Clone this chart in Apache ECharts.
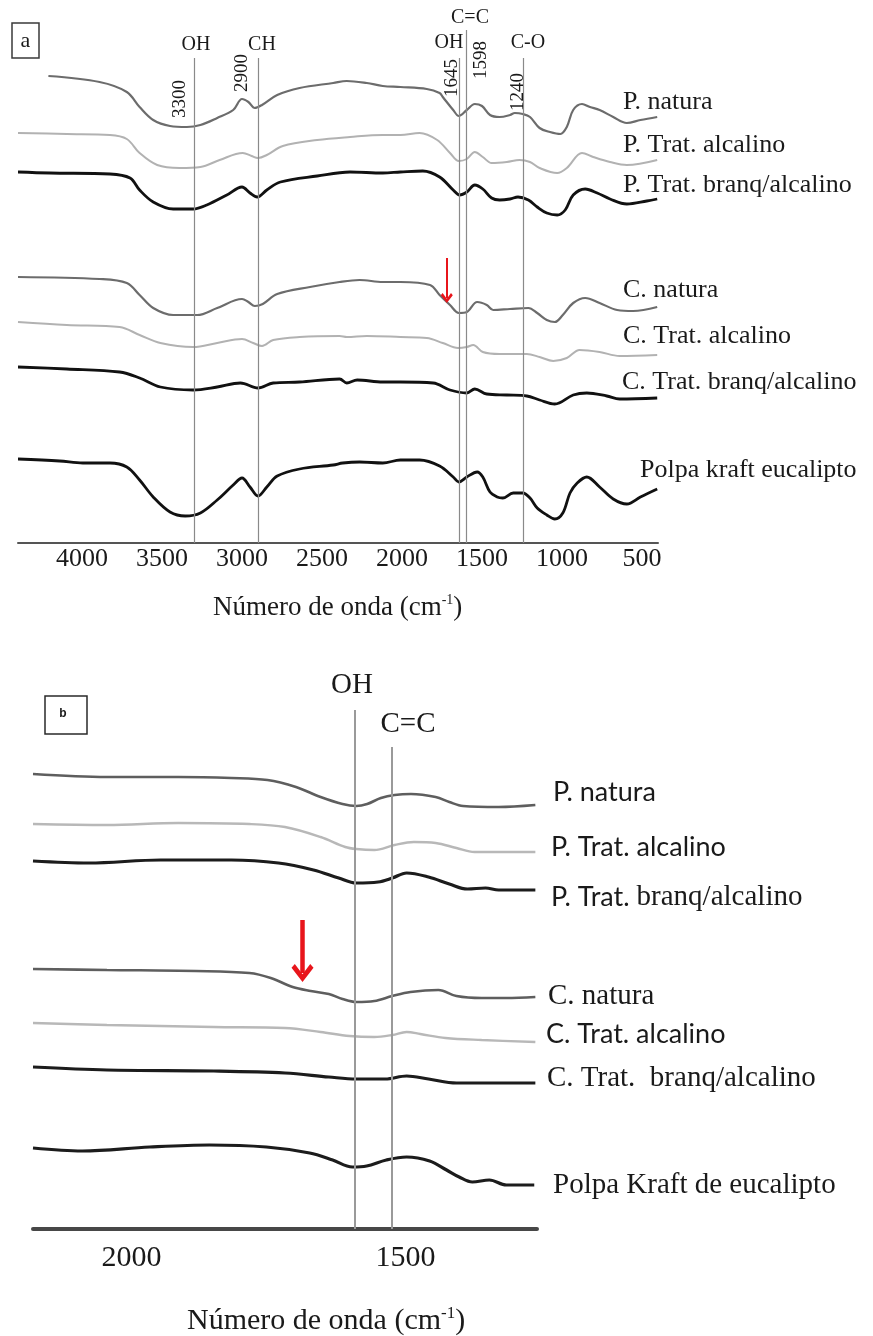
<!DOCTYPE html>
<html>
<head>
<meta charset="utf-8">
<script src="https://cdn.jsdelivr.net/npm/echarts@6/dist/echarts.min.js"></script>
<style>
  html, body { margin: 0; padding: 0; background: #fff; }
  #chart { width: 873px; height: 1336px; }
</style>
</head>
<body>
<div id="chart"></div>
<script>
// ---------- data: FTIR spectra, [wavenumber (cm-1), transmittance (a.u., offset)] ----------

// Panel a: full range 4000-500 cm-1
const wavenumberTicksA = [4000, 3500, 3000, 2500, 2000, 1500, 1000, 500];
const bandPositionsA = [3300, 2900, 1645, 1598, 1240];
const bandGroupsA = ['OH', 'CH', 'OH', 'C=C', 'C-O'];
const sampleNamesA = ['P. natura', 'P. Trat. alcalino', 'P. Trat. branq/alcalino',
  'C. natura', 'C. Trat. alcalino', 'C. Trat. branq/alcalino', 'Polpa kraft eucalipto'];

const aPNatura = [[4210,467],[3890,461],[3720,451],[3640,436],[3555,423],[3450,417],[3345,416],[3260,418],[3155,425],[3055,433],[3000,444],[2960,441],[2920,435],[2875,438],[2780,448],[2640,455],[2430,460],[2345,462],[2220,460],[2120,457],[2010,456],[1845,454],[1765,450],[1745,446],[1680,433],[1645,427],[1595,433],[1545,439],[1500,437],[1450,428],[1390,426],[1325,428],[1295,430],[1245,429],[1200,426],[1140,415],[1075,411],[1010,409],[970,416],[930,433],[875,439],[825,436],[765,433],[680,426],[595,420],[510,423],[405,426]];
const aPAlcalino = [[4400,410],[4095,409],[3825,408],[3720,404],[3640,390],[3530,378],[3390,375],[3260,376],[3140,383],[2995,390],[2940,387],[2900,385],[2845,388],[2745,397],[2530,403],[2325,406],[2120,408],[2010,408],[1890,410],[1780,403],[1700,390],[1645,382],[1595,384],[1545,391],[1495,386],[1440,380],[1345,381],[1265,383],[1200,381],[1140,375],[1030,370],[970,375],[875,390],[805,386],[700,381],[595,378],[405,383]];
const aPBranq = [[4400,371],[4200,370],[3825,369],[3700,365],[3640,353],[3555,341],[3430,334],[3305,334],[3220,338],[3095,348],[3000,356],[2950,350],[2905,346],[2845,353],[2760,361],[2530,367],[2325,371],[2120,370],[2010,371],[1870,372],[1765,366],[1680,353],[1640,348],[1595,351],[1545,358],[1495,354],[1440,345],[1390,343],[1325,344],[1275,346],[1210,343],[1155,336],[1095,330],[1030,328],[980,333],[930,348],[855,354],[780,350],[700,344],[595,339],[470,342],[405,344]];
const aCNatura = [[4400,266],[3890,264],[3720,260],[3640,248],[3555,235],[3430,228],[3280,228],[3155,235],[3000,244],[2960,241],[2920,237],[2870,239],[2780,249],[2575,256],[2390,261],[2265,263],[2120,261],[2010,261],[1825,258],[1765,248],[1700,238],[1645,230],[1595,231],[1530,241],[1470,238],[1430,233],[1325,234],[1210,235],[1155,230],[1095,223],[1045,221],[995,228],[930,240],[855,245],[765,240],[655,233],[555,232],[405,236]];
const aCAlcalino = [[4400,221],[4095,218],[3765,216],[3640,208],[3510,200],[3305,196],[3155,200],[3000,204],[2930,200],[2875,197],[2805,203],[2640,206],[2390,207],[2345,206],[2220,207],[2010,206],[1845,205],[1745,200],[1650,195],[1595,196],[1555,198],[1495,191],[1390,189],[1220,189],[1140,186],[1055,182],[970,185],[890,193],[765,191],[640,187],[405,188]];
const aCBranq = [[4400,176],[4095,174],[3765,171],[3640,165],[3510,156],[3305,153],[3155,156],[3010,160],[2900,155],[2805,160],[2640,161],[2390,164],[2345,160],[2280,163],[2120,161],[2010,161],[1805,160],[1700,153],[1595,150],[1545,154],[1470,149],[1345,148],[1220,147],[1140,143],[1045,139],[930,148],[845,150],[720,147],[640,144],[405,145]];
const aPolpa = [[4400,84],[4140,82],[3995,80],[3825,80],[3720,76],[3640,63],[3555,46],[3450,31],[3355,27],[3260,30],[3155,43],[3055,58],[3000,65],[2950,56],[2900,47],[2845,56],[2780,67],[2640,74],[2430,78],[2370,80],[2265,81],[2120,80],[2010,83],[1890,83],[1765,77],[1680,66],[1645,61],[1595,66],[1530,71],[1495,66],[1450,51],[1405,46],[1370,45],[1305,50],[1245,50],[1200,45],[1155,35],[1095,28],[1045,24],[995,30],[950,50],[905,60],[845,66],[765,56],[680,44],[595,39],[510,46],[405,54]];

// Panel b: 2180-1260 cm-1 detail
const wavenumberTicksB = [2000, 1500];
const bandPositionsB = [1592, 1525];
const bandGroupsB = ['OH', 'C=C'];
const sampleNamesB = ['P. natura', 'P. Trat. alcalino', 'P. Trat. branq/alcalino',
  'C. natura', 'C. Trat. alcalino', 'C. Trat.  branq/alcalino', 'Polpa Kraft de eucalipto'];

const bPNatura = [[2180,455],[2045,452],[1915,452],[1818,451],[1752,449],[1700,442],[1655,432],[1615,425],[1590,423],[1570,425],[1545,431],[1520,434],[1490,435],[1445,432],[1420,427],[1395,423],[1330,422],[1263,424]];
const bPAlcalino = [[2180,405],[2045,404],[1915,406],[1785,405],[1720,402],[1655,392],[1610,382],[1590,380],[1557,379],[1520,384],[1485,387],[1445,386],[1407,381],[1374,377],[1263,377]];
const bPBranq = [[2180,368],[2078,366],[1947,369],[1818,369],[1732,366],[1668,359],[1622,351],[1590,346],[1550,347],[1524,351],[1498,356],[1458,352],[1420,345],[1387,340],[1354,341],[1330,339],[1263,339]];
const bCNatura = [[2180,260],[2045,259],[1883,258],[1785,256],[1746,251],[1706,242],[1673,238],[1640,235],[1615,230],[1590,227],[1557,228],[1524,233],[1491,237],[1440,239],[1407,233],[1361,231],[1316,231],[1263,232]];
const bCAlcalino = [[2180,206],[2045,204],[1850,202],[1720,201],[1655,197],[1602,193],[1557,192],[1524,194],[1498,197],[1473,195],[1427,191],[1361,189],[1263,187]];
const bCBranq = [[2180,162],[2045,159],[1850,158],[1720,156],[1640,152],[1590,150],[1537,150],[1498,153],[1458,150],[1407,146],[1330,146],[1263,146]];
const bPolpa = [[2180,81],[2090,78],[1967,82],[1858,84],[1754,82],[1675,76],[1633,69],[1597,62],[1571,63],[1535,69],[1498,72],[1456,68],[1425,59],[1402,52],[1378,47],[1347,49],[1316,44],[1265,44]];

// shoulder marked by the red arrow: [wavenumber, from, to]
const shoulderArrowA = [1720, 285, 245];
const shoulderArrowB = [1688, 309, 256];

// ---------- presentation ----------
const SERIF = "'Liberation Serif', 'Times New Roman', serif";
const SANS = "Lato, 'Liberation Sans', sans-serif";
const TEXT = '#1a1a1a';

const curvesA = [aPNatura, aPAlcalino, aPBranq, aCNatura, aCAlcalino, aCBranq, aPolpa];
const curvesB = [bPNatura, bPAlcalino, bPBranq, bCNatura, bCAlcalino, bCBranq, bPolpa];
const tones = ['mid', 'light', 'dark', 'mid', 'light', 'dark', 'dark'];
const toneStyleA = { mid: { color: '#6c6c6c', width: 2.2 }, light: { color: '#b2b2b2', width: 2 }, dark: { color: '#111111', width: 2.8 } };
const toneStyleB = { mid: { color: '#5e5e5e', width: 2.6 }, light: { color: '#b8b8b8', width: 2.4 }, dark: { color: '#1c1c1c', width: 3.2 } };

const bandTopA = [485, 485, 485, 513, 485];
const bandTopB = [519, 482];

const chevron = 'path://M0,11 L10,0 L20,11 L17,14 L10,6 L3,14 Z';

function bandLines(positions, tops, style) {
  return positions.map((w, i) => [
    { coord: [w, 0], lineStyle: style },
    { coord: [w, tops[i]] }
  ]);
}
function arrowLine(a, width, head) {
  return [[
    { coord: [a[0], a[1]], symbol: 'none', lineStyle: { color: '#e8151b', width: width, type: 'solid' } },
    { coord: [a[0], a[2]], symbol: chevron, symbolSize: head }
  ]];
}

const series = [];
curvesA.forEach((data, i) => {
  const st = toneStyleA[tones[i]];
  series.push({
    name: 'a-' + sampleNamesA[i], type: 'line', xAxisIndex: 0, yAxisIndex: 0,
    data, showSymbol: false, smooth: 0.35, silent: true, z: 3,
    lineStyle: { color: st.color, width: st.width }
  });
});
curvesB.forEach((data, i) => {
  const st = toneStyleB[tones[i]];
  series.push({
    name: 'b-' + sampleNamesB[i], type: 'line', xAxisIndex: 1, yAxisIndex: 1,
    data, showSymbol: false, smooth: 0.35, silent: true, z: 3,
    lineStyle: { color: st.color, width: st.width }
  });
});

// band guide lines and shoulder arrows
series[0].markLine = { silent: true, symbol: 'none', label: { show: false }, animation: false,
  data: bandLines(bandPositionsA, bandTopA, { color: '#8a8a8a', width: 1.2, type: 'solid' }) };
series[3].markLine = { silent: true, symbol: 'none', label: { show: false }, animation: false,
  data: arrowLine(shoulderArrowA, 2, [12, 10]) };
series[7].markLine = { silent: true, symbol: 'none', label: { show: false }, animation: false,
  data: bandLines(bandPositionsB, bandTopB, { color: '#9a9a9a', width: 2, type: 'solid' }) };
series[10].markLine = { silent: true, symbol: 'none', label: { show: false }, animation: false,
  data: arrowLine(shoulderArrowB, 4.5, [22, 18]) };

// ---------- text layout ----------
function text(x, y, str, size, family, extra) {
  const el = { type: 'text', x: x, y: y, silent: true, z: 10,
    style: { text: str, font: size + 'px ' + family, fill: TEXT,
      align: 'left', verticalAlign: 'middle', textAlign: 'left', textVerticalAlign: 'middle' } };
  if (extra) {
    if (extra.style) Object.assign(el.style, extra.style);
    if (extra.rotation !== undefined) el.rotation = extra.rotation;
  }
  return el;
}
const centered = { style: { align: 'center', textAlign: 'center' } };
const vertical = { style: { align: 'center', textAlign: 'center' }, rotation: Math.PI / 2 };

const labelPosA = [[623, 102], [623, 145], [623, 185], [623, 290], [623, 336], [622, 382], [640, 470]];
const groupPosA = [[196, 45], [262, 45], [449, 43], [470, 18], [528, 43]];
const valuePosA = [[180, 99], [242, 73], [452, 78], [481, 60], [518, 92]];

const labelPosB = [[553, 792], [551, 847], [551, 897], [548, 996], [546, 1034], [547, 1078], [553, 1185]];
const labelFontB = ['sans', 'sans', 'mixed', 'serif', 'sans', 'serif', 'serif'];
const groupPosB = [[352, 685], [408, 724]];

const graphics = [];

// panel a
graphics.push({ type: 'rect', shape: { x: 12, y: 23, width: 27, height: 35 }, silent: true,
  style: { fill: 'none', stroke: '#3a3a3a', lineWidth: 1.5 } });
graphics.push(text(25.5, 41, 'a', 22, SERIF, centered));
sampleNamesA.forEach((n, i) => graphics.push(text(labelPosA[i][0], labelPosA[i][1], n, 26, SERIF)));
bandGroupsA.forEach((g, i) => graphics.push(text(groupPosA[i][0], groupPosA[i][1], g, 20, SERIF, centered)));
bandPositionsA.forEach((w, i) => graphics.push(text(valuePosA[i][0], valuePosA[i][1], String(w), 19, SERIF, vertical)));
graphics.push({ type: 'text', x: 213, y: 608, silent: true,
  style: { text: '{n|Número de onda (cm}{s|-1}{n|)}', align: 'left', verticalAlign: 'middle',
    textAlign: 'left', textVerticalAlign: 'middle', fill: TEXT,
    rich: { n: { fontSize: 27, fontFamily: SERIF, lineHeight: 30, fill: TEXT },
            s: { fontSize: 14, fontFamily: SERIF, lineHeight: 30, verticalAlign: 'top', fill: TEXT } } } });

// panel b
graphics.push({ type: 'rect', shape: { x: 45, y: 696, width: 42, height: 38 }, silent: true,
  style: { fill: 'none', stroke: '#2a2a2a', lineWidth: 1.5 } });
graphics.push(text(63, 714, 'b', 16, SANS, { style: { align: 'center', textAlign: 'center', fontWeight: 'bold' } }));
bandGroupsB.forEach((g, i) => graphics.push(text(groupPosB[i][0], groupPosB[i][1], g, 29, SERIF, centered)));
sampleNamesB.forEach((n, i) => {
  const [x, y] = labelPosB[i];
  const kind = labelFontB[i];
  if (kind === 'sans') {
    graphics.push(text(x, y, n, 27, SANS));
  } else if (kind === 'serif') {
    graphics.push(text(x, y, n, 29, SERIF));
  } else {
    const cut = n.indexOf('branq');
    graphics.push({ type: 'text', x: x, y: y, silent: true,
      style: { text: '{s|' + n.slice(0, cut) + '}{r|' + n.slice(cut) + '}', align: 'left', verticalAlign: 'middle',
        textAlign: 'left', textVerticalAlign: 'middle', fill: TEXT,
        rich: { s: { fontSize: 27, fontFamily: SANS, fill: TEXT, lineHeight: 32 },
                r: { fontSize: 29, fontFamily: SERIF, fill: TEXT, lineHeight: 32 } } } });
  }
});
graphics.push({ type: 'text', x: 187, y: 1321, silent: true,
  style: { text: '{n|Número de onda (cm}{s|-1}{n|)}', align: 'left', verticalAlign: 'middle',
    textAlign: 'left', textVerticalAlign: 'middle', fill: TEXT,
    rich: { n: { fontSize: 30, fontFamily: SERIF, lineHeight: 32, fill: TEXT },
            s: { fontSize: 17, fontFamily: SERIF, lineHeight: 32, verticalAlign: 'top', fill: TEXT } } } });

// ---------- chart ----------
const plainNumber = v => String(v);
const chart = echarts.init(document.getElementById('chart'), null, { renderer: 'canvas' });
chart.setOption({
  backgroundColor: '#ffffff',
  animation: false,
  grid: [
    { left: 18, top: 13, width: 640, height: 530 },
    { left: 33, top: 699, width: 504, height: 530 }
  ],
  xAxis: [
    { gridIndex: 0, type: 'value', min: 400, max: 4400, inverse: true,
      axisLine: { show: true, lineStyle: { color: '#555555', width: 2 } },
      axisTick: { show: false }, splitLine: { show: false },
      axisLabel: { customValues: wavenumberTicksA, formatter: plainNumber, margin: 3, fontSize: 26, fontFamily: SERIF, color: TEXT } },
    { gridIndex: 1, type: 'value', min: 1260, max: 2180, inverse: true,
      axisLine: { show: true, lineStyle: { color: '#474747', width: 4 } },
      axisTick: { show: false }, splitLine: { show: false },
      axisLabel: { customValues: wavenumberTicksB, formatter: plainNumber, margin: 14, fontSize: 30, fontFamily: SERIF, color: TEXT } }
  ],
  yAxis: [
    { gridIndex: 0, type: 'value', min: 0, max: 530, show: false },
    { gridIndex: 1, type: 'value', min: 0, max: 530, show: false }
  ],
  series: series,
  graphic: graphics
});
</script>
</body>
</html>
